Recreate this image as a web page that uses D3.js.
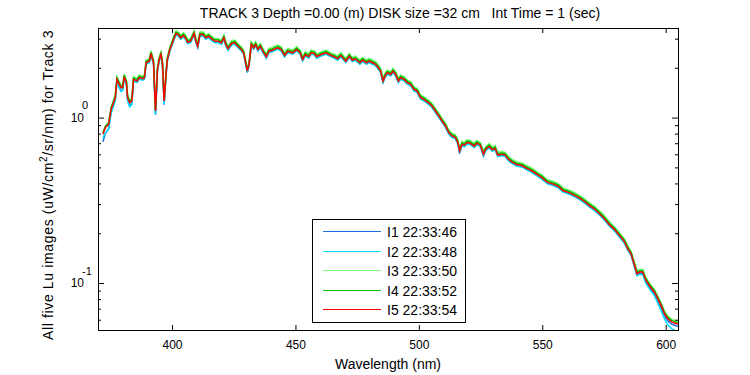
<!DOCTYPE html>
<html>
<head>
<meta charset="utf-8">
<script src="https://cdn.jsdelivr.net/npm/d3@7/dist/d3.min.js"></script>
<style>
  body { margin: 0; background: #fff; }
  svg { font-family: Arial, 'Liberation Sans', sans-serif; display: block; }
</style>
</head>
<body>
<svg id="chart"></svg>
<script>
const width = 750;
const height = 375;
const plot = {left: 98, right: 678, top: 28, bottom: 330};

// wavelength (nm), shared by all five scans
const wavelengths = [
  372, 373, 374.3, 375.3, 376.3, 377, 377.7, 378.3, 379.3, 380,
  380.6, 381.5, 382, 382.8, 383.7, 384.4, 385.8, 386.7, 388.2, 388.8,
  389.5, 390.8, 391.5, 392.5, 393.3, 394.1, 394.8, 395.5, 396.1, 396.8,
  397.6, 398.1, 399.2, 399.9, 400.5, 401.6, 402.5, 403.5, 404.6, 405.5,
  406.3, 407.5, 408.9, 409.7, 410.4, 411.3, 412.6, 413.7, 414.8, 416,
  417.3, 418.7, 420, 421, 421.8, 422.7, 424.1, 425.4, 426.7, 428.1,
  429, 429.7, 430.5, 431.2, 432.1, 433.1, 433.9, 434.8, 435.8, 436.8,
  438.2, 439.2, 440.6, 441.7, 442.9, 444.2, 445.6, 446.9, 448.9, 450.5,
  451.9, 452.9, 454, 455.4, 456.3, 457.7, 458.6, 460.4, 462.4, 464.4,
  465.7, 467.1, 468.4, 470.4, 471.8, 473.1, 474.2, 476.1, 477.2, 478.8,
  479.8, 481.2, 482.5, 483.6, 484.5, 485.5, 486.3, 487.2, 488.6, 489.5,
  490.6, 491.7, 492.6, 494, 495.3, 496.7, 498, 499.3, 500.7, 502,
  503.8, 505.1, 506.7, 508.1, 509.4, 510.8, 512.1, 513.4, 514.8, 515.8,
  516.5, 517.5, 518.5, 519.5, 520.8, 522.4, 523.5, 524.9, 526.2, 527.1,
  528.5, 529.8, 530.9, 532, 533.6, 535, 536, 537.6, 539.6, 541.7,
  543.7, 545.7, 547.7, 549.7, 552.1, 554.4, 556.5, 558.5, 560.5, 562.9,
  565.2, 567.2, 569.2, 571.2, 573.3, 575.3, 577.3, 579.3, 581.3, 583.4,
  584.7, 586, 587.4, 588.4, 589.4, 590.7, 592, 593.8, 595.4, 596.8,
  598.1, 599.5, 600.8, 602.4, 604.2, 605
];

const luI1 = [
  0.714, 0.800, 0.856, 1.077, 1.194, 1.287, 1.667, 1.560, 1.455, 1.474,
  1.740, 1.601, 1.280, 1.182, 1.221, 1.675, 1.637, 1.716, 1.692, 1.716,
  2.113, 2.160, 2.402, 2.113, 1.041, 1.925, 2.210, 2.369, 2.113, 1.196,
  1.838, 2.210, 2.565, 2.724, 2.891, 3.172, 3.128, 2.988, 3.085, 2.988,
  2.811, 2.851, 3.172, 2.851, 2.660, 3.128, 3.128, 2.988, 3.054, 2.947,
  2.851, 2.851, 2.788, 2.988, 2.724, 2.565, 2.761, 2.788, 2.660, 2.539,
  2.427, 2.160, 1.880, 2.063, 2.724, 2.601, 2.724, 2.539, 2.660, 2.481,
  2.296, 2.481, 2.516, 2.565, 2.601, 2.539, 2.337, 2.481, 2.427, 2.539,
  2.427, 2.210, 2.369, 2.296, 2.427, 2.402, 2.296, 2.369, 2.427, 2.337,
  2.296, 2.233, 2.337, 2.160, 2.315, 2.190, 2.233, 2.113, 2.190, 2.113,
  2.160, 2.113, 2.063, 1.970, 1.880, 1.637, 1.754, 1.838, 1.796, 1.880,
  1.796, 1.637, 1.716, 1.675, 1.601, 1.563, 1.458, 1.424, 1.300, 1.270,
  1.213, 1.168, 1.080, 1.007, 0.940, 0.877, 0.800, 0.763, 0.747, 0.696,
  0.610, 0.681, 0.671, 0.696, 0.690, 0.662, 0.690, 0.671, 0.586, 0.634,
  0.659, 0.628, 0.641, 0.584, 0.592, 0.584, 0.558, 0.532, 0.512, 0.505,
  0.486, 0.470, 0.448, 0.428, 0.400, 0.390, 0.378, 0.356, 0.348, 0.335,
  0.320, 0.305, 0.289, 0.276, 0.2576, 0.2403, 0.2211, 0.2071, 0.1906, 0.1739,
  0.1578, 0.147, 0.1250, 0.1115, 0.1142, 0.1142, 0.1016, 0.0927, 0.0861, 0.0784,
  0.0711, 0.0633, 0.0592, 0.0565, 0.0552, 0.0548
];

const luI2 = [
  0.753, 0.809, 0.847, 1.055, 1.169, 1.267, 1.650, 1.544, 1.440, 1.459,
  1.731, 1.593, 1.267, 1.157, 1.196, 1.667, 1.629, 1.707, 1.684, 1.707,
  2.102, 2.149, 2.390, 2.102, 1.052, 1.915, 2.199, 2.357, 2.102, 1.209,
  1.829, 2.199, 2.552, 2.710, 2.876, 3.156, 3.112, 2.973, 3.069, 2.973,
  2.797, 2.836, 3.156, 2.836, 2.646, 3.112, 3.112, 2.973, 3.039, 2.932,
  2.836, 2.836, 2.773, 2.973, 2.710, 2.552, 2.747, 2.773, 2.646, 2.526,
  2.415, 2.149, 1.871, 2.052, 2.710, 2.588, 2.710, 2.526, 2.646, 2.469,
  2.284, 2.469, 2.503, 2.552, 2.588, 2.526, 2.326, 2.469, 2.415, 2.526,
  2.415, 2.199, 2.357, 2.284, 2.415, 2.390, 2.284, 2.357, 2.415, 2.326,
  2.284, 2.222, 2.326, 2.149, 2.303, 2.179, 2.222, 2.102, 2.179, 2.102,
  2.149, 2.102, 2.052, 1.960, 1.871, 1.629, 1.745, 1.829, 1.787, 1.871,
  1.787, 1.629, 1.707, 1.667, 1.593, 1.555, 1.450, 1.417, 1.294, 1.263,
  1.206, 1.162, 1.074, 1.002, 0.935, 0.872, 0.796, 0.760, 0.743, 0.693,
  0.616, 0.677, 0.667, 0.693, 0.686, 0.659, 0.686, 0.667, 0.589, 0.631,
  0.656, 0.625, 0.638, 0.581, 0.589, 0.581, 0.555, 0.529, 0.510, 0.503,
  0.483, 0.467, 0.446, 0.426, 0.398, 0.388, 0.376, 0.354, 0.346, 0.333,
  0.319, 0.304, 0.287, 0.274, 0.2563, 0.2391, 0.2200, 0.2061, 0.1896, 0.1731,
  0.1578, 0.147, 0.1244, 0.1104, 0.1130, 0.1124, 0.0996, 0.0903, 0.0839, 0.0756,
  0.0682, 0.0607, 0.0561, 0.0530, 0.0512, 0.0509
];

const luI3 = [
  0.801, 0.879, 0.929, 1.156, 1.280, 1.373, 1.769, 1.690, 1.577, 1.581,
  1.837, 1.690, 1.373, 1.280, 1.309, 1.769, 1.728, 1.812, 1.787, 1.812,
  2.231, 2.281, 2.537, 2.231, 1.140, 2.032, 2.334, 2.501, 2.231, 1.309,
  1.941, 2.334, 2.708, 2.876, 3.052, 3.349, 3.303, 3.155, 3.257, 3.155,
  2.968, 3.010, 3.349, 3.010, 2.808, 3.303, 3.303, 3.155, 3.225, 3.112,
  3.010, 3.010, 2.943, 3.155, 2.876, 2.708, 2.915, 2.943, 2.808, 2.681,
  2.563, 2.281, 1.985, 2.178, 2.876, 2.747, 2.876, 2.681, 2.808, 2.620,
  2.424, 2.620, 2.656, 2.708, 2.747, 2.681, 2.468, 2.620, 2.563, 2.681,
  2.563, 2.334, 2.501, 2.424, 2.563, 2.537, 2.424, 2.501, 2.563, 2.468,
  2.424, 2.358, 2.468, 2.281, 2.444, 2.312, 2.358, 2.231, 2.312, 2.231,
  2.281, 2.231, 2.178, 2.080, 1.985, 1.728, 1.852, 1.941, 1.896, 1.985,
  1.896, 1.728, 1.812, 1.769, 1.690, 1.650, 1.539, 1.504, 1.373, 1.341,
  1.280, 1.233, 1.140, 1.063, 0.992, 0.926, 0.844, 0.806, 0.788, 0.735,
  0.654, 0.719, 0.708, 0.735, 0.728, 0.699, 0.728, 0.708, 0.625, 0.670,
  0.696, 0.664, 0.677, 0.617, 0.625, 0.617, 0.589, 0.562, 0.541, 0.534,
  0.513, 0.496, 0.473, 0.452, 0.422, 0.412, 0.399, 0.375, 0.367, 0.354,
  0.338, 0.322, 0.305, 0.291, 0.272, 0.254, 0.2335, 0.2187, 0.2012, 0.1837,
  0.1674, 0.156, 0.1327, 0.1184, 0.1212, 0.1212, 0.1078, 0.0984, 0.0918, 0.0836,
  0.0762, 0.0679, 0.0634, 0.0605, 0.0592, 0.0588
];

const luI4 = [
  0.809, 0.887, 0.929, 1.144, 1.256, 1.346, 1.735, 1.658, 1.546, 1.550,
  1.801, 1.658, 1.346, 1.256, 1.284, 1.735, 1.695, 1.777, 1.752, 1.777,
  2.188, 2.237, 2.488, 2.188, 1.118, 1.993, 2.289, 2.453, 2.188, 1.284,
  1.903, 2.289, 2.656, 2.820, 2.994, 3.284, 3.240, 3.095, 3.195, 3.095,
  2.911, 2.952, 3.284, 2.952, 2.754, 3.240, 3.240, 3.095, 3.163, 3.052,
  2.952, 2.952, 2.887, 3.095, 2.820, 2.656, 2.859, 2.887, 2.754, 2.630,
  2.513, 2.237, 1.947, 2.136, 2.820, 2.694, 2.820, 2.630, 2.754, 2.569,
  2.378, 2.569, 2.605, 2.656, 2.694, 2.630, 2.420, 2.569, 2.513, 2.630,
  2.513, 2.289, 2.453, 2.378, 2.513, 2.488, 2.378, 2.453, 2.513, 2.420,
  2.378, 2.312, 2.420, 2.237, 2.397, 2.267, 2.312, 2.188, 2.267, 2.188,
  2.237, 2.188, 2.136, 2.040, 1.947, 1.695, 1.817, 1.903, 1.859, 1.947,
  1.859, 1.695, 1.777, 1.735, 1.658, 1.619, 1.510, 1.475, 1.346, 1.315,
  1.256, 1.210, 1.118, 1.042, 0.973, 0.908, 0.828, 0.791, 0.773, 0.721,
  0.642, 0.705, 0.695, 0.721, 0.714, 0.685, 0.714, 0.695, 0.613, 0.657,
  0.682, 0.651, 0.664, 0.605, 0.613, 0.605, 0.577, 0.551, 0.530, 0.523,
  0.503, 0.487, 0.464, 0.444, 0.414, 0.404, 0.392, 0.368, 0.360, 0.347,
  0.332, 0.316, 0.299, 0.286, 0.267, 0.249, 0.229, 0.2145, 0.1974, 0.1801,
  0.164, 0.153, 0.1302, 0.1161, 0.1188, 0.1188, 0.1058, 0.0965, 0.0901, 0.0820,
  0.0748, 0.0666, 0.0622, 0.0594, 0.0580, 0.0576
];

const luI5 = [
  0.793, 0.870, 0.911, 1.122, 1.231, 1.320, 1.701, 1.625, 1.516, 1.520,
  1.766, 1.625, 1.320, 1.231, 1.259, 1.701, 1.662, 1.742, 1.718, 1.742,
  2.145, 2.193, 2.439, 2.145, 1.096, 1.954, 2.244, 2.405, 2.145, 1.259,
  1.866, 2.244, 2.604, 2.765, 2.935, 3.220, 3.176, 3.034, 3.132, 3.034,
  2.854, 2.894, 3.220, 2.894, 2.700, 3.176, 3.176, 3.034, 3.101, 2.992,
  2.894, 2.894, 2.830, 3.034, 2.765, 2.604, 2.803, 2.830, 2.700, 2.578,
  2.464, 2.193, 1.909, 2.094, 2.765, 2.641, 2.765, 2.578, 2.700, 2.519,
  2.331, 2.519, 2.554, 2.604, 2.641, 2.578, 2.373, 2.519, 2.464, 2.578,
  2.464, 2.244, 2.405, 2.331, 2.464, 2.439, 2.331, 2.405, 2.464, 2.373,
  2.331, 2.267, 2.373, 2.193, 2.350, 2.223, 2.267, 2.145, 2.223, 2.145,
  2.193, 2.145, 2.094, 2.000, 1.909, 1.662, 1.781, 1.866, 1.823, 1.909,
  1.823, 1.662, 1.742, 1.701, 1.625, 1.587, 1.480, 1.446, 1.320, 1.289,
  1.231, 1.186, 1.096, 1.022, 0.954, 0.890, 0.812, 0.775, 0.758, 0.707,
  0.629, 0.691, 0.681, 0.707, 0.700, 0.672, 0.700, 0.681, 0.601, 0.644,
  0.669, 0.638, 0.651, 0.593, 0.601, 0.593, 0.566, 0.540, 0.520, 0.513,
  0.493, 0.477, 0.455, 0.435, 0.406, 0.396, 0.384, 0.361, 0.353, 0.340,
  0.325, 0.310, 0.293, 0.280, 0.2615, 0.244, 0.2245, 0.2103, 0.1935, 0.1766,
  0.161, 0.150, 0.1276, 0.1138, 0.1165, 0.1165, 0.1037, 0.0946, 0.0883, 0.0804,
  0.0733, 0.0653, 0.0610, 0.0582, 0.0569, 0.0565
];

const seriesNames = ['I1 22:33:46', 'I2 22:33:48', 'I3 22:33:50', 'I4 22:33:52', 'I5 22:33:54'];
const seriesColors = ['#1c6fe0', '#00e0f8', '#7cff7c', '#00c000', '#ff0000'];
const xTicks = [400, 450, 500, 550, 600];
const yMajorTicks = [0.1, 1];
const yExponents = ['-1', '0'];
const yMinorTicks = [0.06, 0.07, 0.08, 0.09, 0.2, 0.3, 0.4, 0.5, 0.6, 0.7, 0.8, 0.9, 2, 3];

const x = d3.scaleLinear()
  .domain([370, 605])
  .range([plot.left, plot.right]);

const y = d3.scaleLog()
  .domain([0.052, 3.48])
  .range([plot.bottom, plot.top]);

const line = d3.line()
  .x(d => x(d[0]))
  .y(d => y(d[1]));

function app () {
  const svg = d3.select('svg#chart')
    .attr('width', width)
    .attr('height', height);

  svg.append('rect')
    .attr('width', width).attr('height', height)
    .attr('fill', '#fff');

  svg.append('clipPath').attr('id', 'clip')
    .append('rect')
    .attr('x', plot.left).attr('y', plot.top)
    .attr('width', plot.right - plot.left + 1)
    .attr('height', plot.bottom - plot.top + 1);

  // the five scans, red last so it sits on top
  const series = [luI1, luI2, luI3, luI4, luI5];
  svg.append('g').attr('clip-path', 'url(#clip)')
    .selectAll('path')
    .data(series)
    .join('path')
    .attr('d', s => line(wavelengths.map((w, i) => [w, s[i]])))
    .attr('fill', 'none')
    .attr('stroke', (_, i) => seriesColors[i])
    .attr('stroke-width', 1.5)
    .attr('stroke-linejoin', 'miter');

  const tidy = g => {
    g.select('.domain').remove();
    g.selectAll('line').attr('stroke', '#000');
    g.selectAll('text').attr('fill', '#000').attr('font-family', null);
  };

  svg.append('g')
    .attr('transform', `translate(0,${plot.bottom})`)
    .call(d3.axisBottom(x).tickValues(xTicks).tickSize(-5).tickSizeOuter(0).tickPadding(10))
    .call(tidy)
    .attr('font-size', 12);

  svg.append('g')
    .attr('transform', `translate(0,${plot.top})`)
    .call(d3.axisTop(x).tickValues(xTicks).tickSize(-5).tickSizeOuter(0).tickFormat(''))
    .call(tidy);

  svg.append('g')
    .attr('transform', `translate(${plot.left},0)`)
    .call(d3.axisLeft(y).tickValues(yMajorTicks).tickSize(-6).tickSizeOuter(0).tickFormat(''))
    .call(tidy);
  svg.append('g')
    .attr('transform', `translate(${plot.left},0)`)
    .call(d3.axisLeft(y).tickValues(yMinorTicks).tickSize(-3).tickSizeOuter(0).tickFormat(''))
    .call(tidy);
  svg.append('g')
    .attr('transform', `translate(${plot.right},0)`)
    .call(d3.axisRight(y).tickValues(yMajorTicks).tickSize(-6).tickSizeOuter(0).tickFormat(''))
    .call(tidy);
  svg.append('g')
    .attr('transform', `translate(${plot.right},0)`)
    .call(d3.axisRight(y).tickValues(yMinorTicks).tickSize(-3).tickSizeOuter(0).tickFormat(''))
    .call(tidy);

  // 10^n labels
  const yLab = svg.append('g').selectAll('g')
    .data(yMajorTicks)
    .join('g')
    .attr('transform', d => `translate(0,${y(d)})`);
  yLab.append('text')
    .attr('x', 84).attr('y', 4)
    .attr('text-anchor', 'end')
    .attr('font-size', 12)
    .text('10');
  yLab.append('text')
    .attr('x', 82).attr('y', -8.5)
    .attr('font-size', 11)
    .text((_, i) => yExponents[i]);

  svg.append('rect')
    .attr('x', plot.left + 0.5).attr('y', plot.top + 0.5)
    .attr('width', plot.right - plot.left)
    .attr('height', plot.bottom - plot.top)
    .attr('fill', 'none')
    .attr('stroke', '#000');

  svg.append('text')
    .attr('x', 400).attr('y', 17.5)
    .attr('text-anchor', 'middle')
    .attr('font-size', 14)
    .attr('xml:space', 'preserve')
    .style('white-space', 'pre')
    .text('TRACK 3 Depth =0.00 (m) DISK size =32 cm   Int Time = 1 (sec)');

  svg.append('text')
    .attr('x', (plot.left + plot.right) / 2).attr('y', 369)
    .attr('text-anchor', 'middle')
    .attr('font-size', 14)
    .text('Wavelength (nm)');

  const yTitle = svg.append('text')
    .attr('transform', 'translate(53,185) rotate(-90)')
    .attr('text-anchor', 'middle')
    .attr('font-size', 14)
    .attr('letter-spacing', 0.65);
  yTitle.append('tspan').text('All five Lu images (uW/cm');
  yTitle.append('tspan').attr('font-size', 10).attr('dy', -6).text('2');
  yTitle.append('tspan').attr('dy', 6).text('/sr/nm) for Track 3');

  // legend
  const legend = svg.append('g');
  legend.append('rect')
    .attr('x', 312.5).attr('y', 219.5)
    .attr('width', 153).attr('height', 103)
    .attr('fill', '#fff')
    .attr('stroke', '#000');
  const rows = legend.selectAll('g.row')
    .data(seriesNames)
    .join('g')
    .attr('class', 'row')
    .attr('transform', (_, i) => `translate(0,${Math.round(231 + i * 19.5) + 0.5})`);
  rows.append('line')
    .attr('x1', 323).attr('x2', 381)
    .attr('stroke', (_, i) => seriesColors[i])
    .attr('stroke-width', 1);
  rows.append('text')
    .attr('x', 387).attr('y', 5)
    .attr('font-size', 14)
    .text(d => d);
}

app();
</script>
</body>
</html>
